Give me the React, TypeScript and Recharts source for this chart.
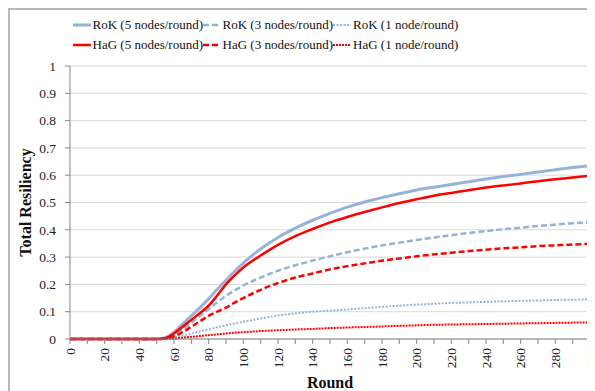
import React from 'react';
import { LineChart, Line, XAxis, YAxis, CartesianGrid } from 'recharts';

const rounds = [0, 10, 20, 30, 40, 50, 55, 60, 65, 70, 75, 80, 85, 90, 95, 100, 110, 120, 130, 140, 150, 160, 170, 180, 190, 200, 210, 220, 230, 240, 250, 260, 270, 280, 290, 300];

const rok5 = [0, 0, 0, 0, 0, 0, 0.005, 0.025, 0.055, 0.085, 0.115, 0.147, 0.182, 0.215, 0.248, 0.278, 0.33, 0.372, 0.406, 0.435, 0.46, 0.483, 0.502, 0.518, 0.532, 0.546, 0.556, 0.566, 0.576, 0.586, 0.595, 0.603, 0.612, 0.62, 0.628, 0.635];
const rok3 = [0, 0, 0, 0, 0, 0, 0.003, 0.015, 0.035, 0.06, 0.085, 0.11, 0.135, 0.158, 0.178, 0.196, 0.225, 0.25, 0.27, 0.287, 0.303, 0.318, 0.331, 0.343, 0.353, 0.363, 0.372, 0.38, 0.388, 0.395, 0.402, 0.408, 0.414, 0.419, 0.424, 0.428];
const rok1 = [0, 0, 0, 0, 0, 0, 0.001, 0.005, 0.012, 0.02, 0.028, 0.035, 0.043, 0.05, 0.057, 0.063, 0.075, 0.086, 0.094, 0.1, 0.104, 0.108, 0.113, 0.118, 0.122, 0.126, 0.129, 0.132, 0.134, 0.136, 0.138, 0.14, 0.141, 0.143, 0.144, 0.145];
const hag5 = [0, 0, 0, 0, 0, 0, 0.003, 0.02, 0.045, 0.07, 0.095, 0.122, 0.16, 0.2, 0.233, 0.262, 0.306, 0.345, 0.377, 0.403, 0.427, 0.447, 0.465, 0.482, 0.498, 0.512, 0.525, 0.535, 0.545, 0.555, 0.562, 0.57, 0.578, 0.585, 0.592, 0.598];
const hag3 = [0, 0, 0, 0, 0, 0, 0.002, 0.01, 0.025, 0.045, 0.065, 0.085, 0.1, 0.115, 0.133, 0.15, 0.18, 0.205, 0.225, 0.24, 0.255, 0.267, 0.277, 0.287, 0.295, 0.303, 0.31, 0.316, 0.322, 0.327, 0.332, 0.336, 0.34, 0.343, 0.346, 0.349];
const hag1 = [0, 0, 0, 0, 0, 0, 0.0005, 0.002, 0.005, 0.008, 0.011, 0.014, 0.017, 0.02, 0.023, 0.025, 0.029, 0.032, 0.035, 0.037, 0.04, 0.042, 0.044, 0.046, 0.048, 0.05, 0.052, 0.053, 0.054, 0.055, 0.056, 0.057, 0.058, 0.059, 0.06, 0.061];

const xTicks = [0, 10, 20, 30, 40, 50, 60, 70, 80, 90, 100, 110, 120, 130, 140, 150, 160, 170, 180, 190, 200, 210, 220, 230, 240, 250, 260, 270, 280, 290, 300];
const yTicks = [0, 0.1, 0.2, 0.3, 0.4, 0.5, 0.6, 0.7, 0.8, 0.9, 1];

const BLUE = '#95B3D7';
const RED = '#FF0000';
const FONT = "'Liberation Serif', 'Times New Roman', serif";

const series = [
  { key: 'rok5', name: 'RoK (5 nodes/round)', color: BLUE, dash: undefined, width: 3, values: rok5 },
  { key: 'rok3', name: 'RoK (3 nodes/round)', color: BLUE, dash: '6 3', width: 2.5, values: rok3 },
  { key: 'rok1', name: 'RoK (1 node/round)', color: BLUE, dash: '2 1.5', width: 2, values: rok1 },
  { key: 'hag5', name: 'HaG (5 nodes/round)', color: RED, dash: undefined, width: 2.5, values: hag5 },
  { key: 'hag3', name: 'HaG (3 nodes/round)', color: RED, dash: '6 3', width: 2.5, values: hag3 },
  { key: 'hag1', name: 'HaG (1 node/round)', color: RED, dash: '2 1', width: 2, values: hag1 },
];

const data = rounds.map((r, i) => {
  const row: any = { round: r };
  series.forEach((s) => { row[s.key] = s.values[i]; });
  return row;
});

const XTick = (props: any) => {
  const { x, y, payload } = props;
  if (payload.value % 20 !== 0) return null;
  return (
    <text x={x} y={y + 2} transform={`rotate(-90 ${x} ${y + 2})`} textAnchor="end" dominantBaseline="central"
      style={{ fontFamily: FONT }} fontSize={13.5} fill="#222">{payload.value}</text>
  );
};

const Legend6 = () => (
  <div style={{ position: 'absolute', left: 73, top: 15, width: 400, display: 'flex', flexWrap: 'wrap', fontFamily: FONT, fontSize: 13, color: '#111' }}>
    {series.map((s) => (
      <div key={s.key} style={{ width: 130, height: 20, display: 'flex', alignItems: 'center', whiteSpace: 'nowrap' }}>
        <svg width={18} height={10} style={{ marginRight: 2 }}>
          <line x1={0} y1={5} x2={18} y2={5} stroke={s.color} strokeWidth={s.width} strokeDasharray={s.dash} />
        </svg>
        <span>{s.name}</span>
      </div>
    ))}
  </div>
);

export default function App() {
  return (
    <div style={{ position: 'relative', width: 600, height: 400, borderLeft: '2px solid #b8b8b8', borderTop: '2px solid #b8b8b8', boxSizing: 'border-box', fontFamily: FONT }}>
      <div style={{ position: 'absolute', left: -10, top: -10, width: 595, height: 391 }}>
        <Legend6 />
        <LineChart width={595} height={391} data={data} margin={{ top: 66, right: 5, bottom: 12, left: 10 }} style={{ fontFamily: FONT }}>
          <CartesianGrid vertical={false} stroke="#d9d9d9" strokeWidth={1} />
          <XAxis dataKey="round" type="number" domain={[0, 300]} ticks={xTicks} interval={0}
            tick={<XTick />} tickSize={5} height={40} stroke="#868686" allowDecimals={false}
            label={{ value: 'Round', position: 'insideBottom', offset: -9, style: { fontFamily: FONT }, fontSize: 16, fontWeight: 'bold', fill: '#111' }} />
          <YAxis type="number" domain={[0, 1]} ticks={yTicks} interval={0} width={60} tickSize={5} tickMargin={9}
            stroke="#868686" tick={{ style: { fontFamily: FONT }, fontSize: 13.5, fill: '#222' }}
            label={{ value: 'Total Resiliency', angle: -90, position: 'insideLeft', offset: 15, style: { textAnchor: 'middle', fontFamily: FONT }, fontSize: 16, fontWeight: 'bold', fill: '#111' }} />
          {series.map((s) => (
            <Line key={s.key} dataKey={s.key} name={s.name} stroke={s.color} strokeWidth={s.width}
              strokeDasharray={s.dash} dot={false} type="monotone" isAnimationActive={false} />
          ))}
        </LineChart>
      </div>
    </div>
  );
}
